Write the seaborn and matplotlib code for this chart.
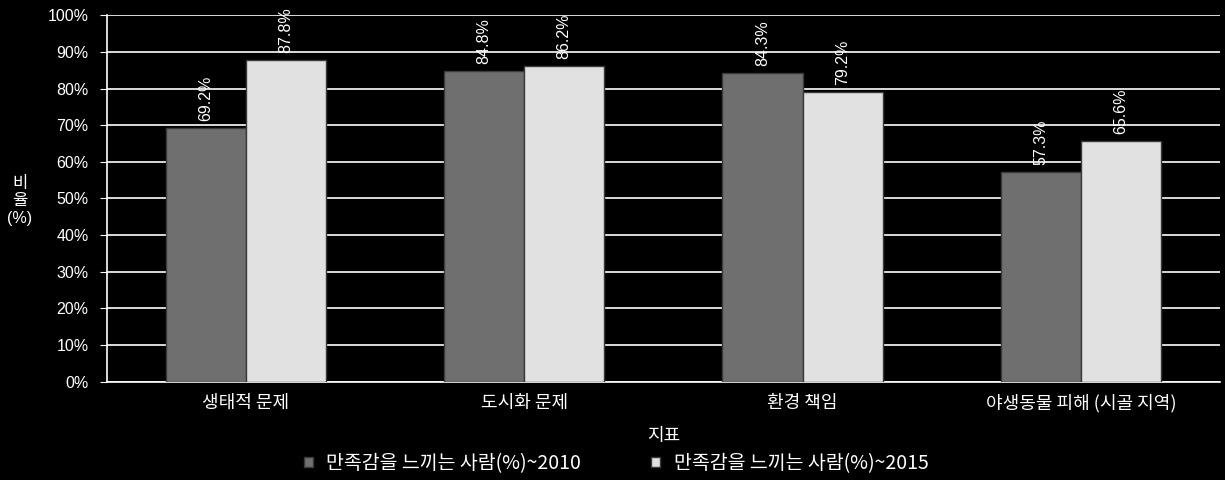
import pandas as pd
import matplotlib.pyplot as plt
import seaborn as sns
from matplotlib.ticker import PercentFormatter

categories = ['생태적 문제', '도시화 문제', '환경 책임', '야생동물 피해 (시골 지역)']
series = ['만족감을 느끼는 사람(%)~2010', '만족감을 느끼는 사람(%)~2015']
values_2010 = [69.2, 84.8, 84.3, 57.3]
values_2015 = [87.8, 86.2, 79.2, 65.6]

df = pd.DataFrame({
    '지표': categories * 2,
    '비율': values_2010 + values_2015,
    '연도': [series[0]] * 4 + [series[1]] * 4,
})

sns.set_style('dark')
plt.rcParams['font.family'] = ['Noto Sans CJK KR', 'DejaVu Sans']

fig = plt.figure(figsize=(12.25, 4.8), dpi=100, facecolor='black')
ax = fig.add_axes([0.087, 0.205, 0.909, 0.763])
ax.set_facecolor('black')

sns.barplot(data=df, x='지표', y='비율', hue='연도', palette=['#6f6f6f', '#e1e1e1'],
            width=0.575, edgecolor='#3a3a3a', linewidth=1, ax=ax, zorder=3)

for cont in ax.containers:
    ax.bar_label(cont, labels=[f'{v:.1f}%' for v in cont.datavalues], rotation=90,
                 padding=5, color='white', fontsize=11.5, family='Liberation Sans')

ax.set_ylim(0, 100)
ax.set_yticks(range(0, 101, 10))
ax.yaxis.set_major_formatter(PercentFormatter(decimals=0))
ax.grid(axis='y', color='white', linewidth=1.2, zorder=0)
ax.grid(axis='x', visible=False)
ax.tick_params(axis='y', colors='white', labelsize=11.5, length=5, direction='out', left=True, pad=8)
ax.tick_params(axis='x', colors='white', labelsize=13, length=0, pad=9)
for lab in ax.get_yticklabels():
    lab.set_family('Liberation Sans')
for side in ['top', 'right']:
    ax.spines[side].set_visible(False)
for side in ['left', 'bottom']:
    ax.spines[side].set_color('white')
    ax.spines[side].set_linewidth(1.2)

ax.set_xlabel('지표', color='white', fontsize=13, labelpad=10)
ax.set_ylabel('')
fig.text(0.016, 0.6, '비\n율', color='white', fontsize=12, ha='center', va='center', linespacing=1.0)
fig.text(0.016, 0.545, '(%)', color='white', fontsize=11.5, ha='center', va='center', family='Liberation Sans')

handles, labels = ax.get_legend_handles_labels()
ax.get_legend().remove()
fig.legend(handles, labels, loc='center', bbox_to_anchor=(0.503, 0.035), ncol=2,
           frameon=False, labelcolor='white', fontsize=14, handlelength=0.45, handleheight=0.45,
           columnspacing=3.6, handletextpad=0.7)

plt.savefig('out.png', facecolor='black')
